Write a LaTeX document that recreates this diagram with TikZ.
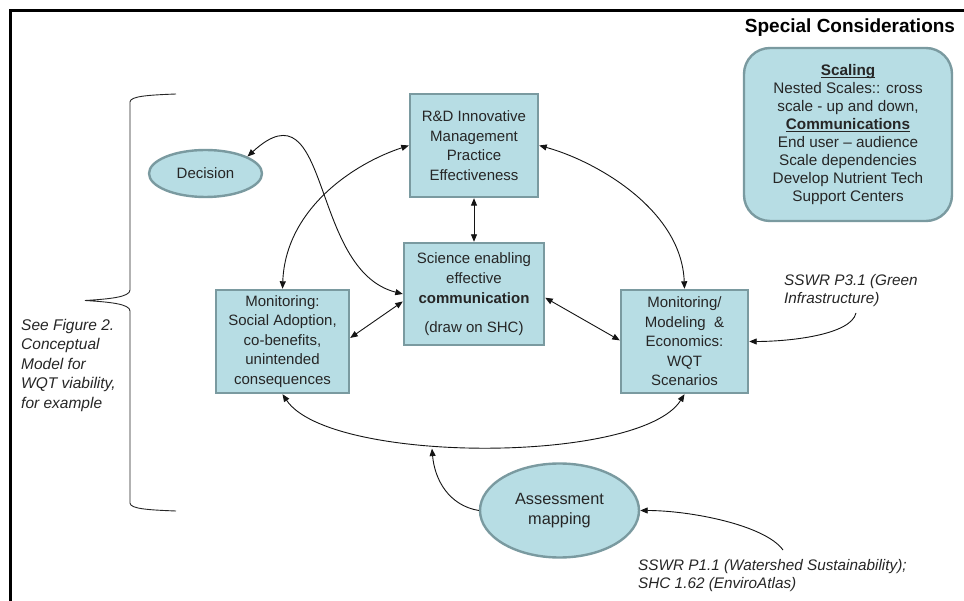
\documentclass[tikz,border=0pt]{standalone}
\usepackage{fontspec}
\setmainfont{Liberation Sans}
\usetikzlibrary{arrows.meta,shapes.geometric,calc}
\definecolor{boxfill}{RGB}{183,221,228}
\definecolor{boxline}{RGB}{122,154,160}
\definecolor{txt}{RGB}{38,38,38}
\newcommand\myul[1]{\leavevmode\setbox0\hbox{#1}\rlap{\rule[-2.4pt]{\wd0}{1.1pt}}\box0}
\begin{document}
\begin{tikzpicture}[x=1pt,y=-1pt,
  box/.style={draw=boxline, line width=2.4pt, fill=boxfill, text=txt, align=center, inner sep=0pt,
    font=\fontsize{15}{19.5}\selectfont},
  oval/.style={ellipse, draw=boxline, line width=2.4pt, fill=boxfill, text=txt, align=center, inner sep=0pt},
  conn/.style={line width=0.9pt, draw=black!92},
  twoway/.style={conn, {Triangle[length=7.5pt,width=6pt]}-{Triangle[length=7.5pt,width=6pt]}},
  oneway/.style={conn, -{Triangle[length=7.5pt,width=6pt]}},
  note/.style={anchor=north west, align=left, inner sep=0pt, text=txt, font=\itshape\fontsize{15.3}{18}\selectfont}
]
\useasboundingbox (0,0) rectangle (964,601);
\fill[white] (0,0) rectangle (964,601);
% frame
\draw[line width=3pt] (10,601) -- (10,11) -- (966,11);

% special considerations
\node[inner sep=0pt, font=\bfseries\fontsize{19}{22}\selectfont] (sctitle) at (850,28) {Special Considerations};
\node[box, rounded corners=26pt, minimum width=208pt, minimum height=173pt, font=\fontsize{15.3}{18}\selectfont] (spec) at (848,134.5)
 {\myul{\textbf{Scaling}}\\Nested Scales:: cross\\scale - up and down,\\\myul{\textbf{Communications}}\\End user – audience\\Scale dependencies\\Develop Nutrient Tech\\Support Centers};

% main boxes
\node[box, minimum width=128pt, minimum height=103pt] (rd) at (474,145.5)
 {R\&D Innovative\\Management\\Practice\\Effectiveness};
\node[box, minimum width=140pt, minimum height=102pt, font=\fontsize{15}{20}\selectfont] (sci) at (474,294)
 {Science enabling\\effective\\\textbf{communication}\\[9pt](draw on SHC)};
\node[box, minimum width=133pt, minimum height=103pt] (lm) at (282.5,341.5)
 {Monitoring:\\Social Adoption,\\co-benefits,\\unintended\\consequences};
\node[box, minimum width=127pt, minimum height=103pt] (rm) at (684.5,341.5)
 {Monitoring/\\Modeling\ \ \&\\Economics:\\WQT\\Scenarios};
\node[oval, minimum width=113pt, minimum height=47pt, font=\fontsize{15}{18}\selectfont] (dec) at (205.5,173.5) {Decision};
\node[oval, minimum width=159pt, minimum height=94pt, font=\fontsize{16.3}{19.5}\selectfont] (asm) at (559.5,510.5) {Assessment\\mapping};

% notes
\node[note, font=\itshape\fontsize{15.5}{19.5}\selectfont] (see) at (21,319) {See Figure 2.\\Conceptual\\Model for\\WQT viability,\\for example};
\node[note] (p31) at (784,274) {SSWR P3.1 (Green\\Infrastructure)};
\node[note] (p11) at (638,559) {SSWR P1.1 (Watershed Sustainability);\\SHC 1.62 (EnviroAtlas)};
\coordinate (p31a) at (856,313);
\coordinate (p11a) at (783,550);

% brace
\draw[line width=0.9pt, draw=txt] (176,94) .. controls (150,95) and (130,96) .. (130,102) -- (130,290)
  .. controls (130,297) and (110,299) .. (85,300.5)
  .. controls (110,302) and (130,304) .. (130,311) -- (130,503)
  .. controls (130,509) and (150,510) .. (176,511);

% connectors
\draw[twoway] (rd.south) -- (sci.north);
\draw[twoway] (sci.186) -- (lm.3);
\draw[twoway] (sci.-3) -- (rm.179);
\draw[twoway] (rd.west) .. controls +(-55,18) and +(3,-80) .. (lm.north);
\draw[twoway] (rd.east) .. controls +(55,15) and +(-3,-80) .. (rm.north);
\draw[twoway] (sci.west) .. controls +(-94,-24) and +(84,-77) .. (dec.22);
\draw[twoway] (lm.south) .. controls +(47,70) and +(-44,70) .. (rm.south) coordinate[pos=0.4] (bc);
\draw[oneway, shorten >=4pt] (asm.west) .. controls +(-30,-5) and +(3,35) .. (bc);
\draw[oneway] (p11a) .. controls +(-18,-25) and +(50,0) .. (asm.east);
\draw[oneway] (p31a) .. controls +(-5,22) and +(40,0) .. (rm.east);
\end{tikzpicture}
\end{document}
